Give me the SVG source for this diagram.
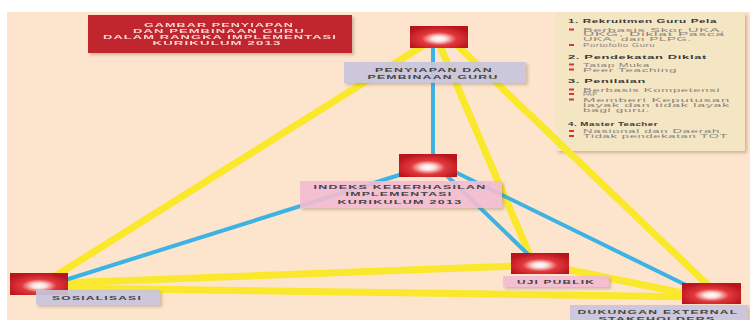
<svg xmlns="http://www.w3.org/2000/svg" width="750" height="320" viewBox="0 0 750 320">
<defs>
<radialGradient id="glow" cx="50%" cy="58%" r="60%" fx="50%" fy="58%">
<stop offset="0%" stop-color="#ffffff"/>
<stop offset="20%" stop-color="#fbe0dc"/>
<stop offset="50%" stop-color="#e2383c"/>
<stop offset="100%" stop-color="#b8141c"/>
</radialGradient>
<filter id="sh" x="-10%" y="-20%" width="130%" height="150%">
<feDropShadow dx="2" dy="2" stdDeviation="1.5" flood-color="#7a5a40" flood-opacity="0.35"/>
</filter>
<style>
.node{fill:url(#glow);}
.y{stroke:#f9e82c;stroke-width:7;fill:none;stroke-linecap:butt;}
.b{stroke:#3cb3e4;stroke-width:4;fill:none;}
.lav{fill:#c8c5dd;opacity:0.92;}
.pink{fill:#f3bcd2;opacity:0.9;}
text{font-family:"Liberation Sans",Arial,sans-serif;}
.lbl{font-weight:bold;font-size:5.8px;letter-spacing:0.6px;fill:#454545;text-anchor:middle;}
.ttl{font-weight:bold;font-size:5.8px;letter-spacing:0.5px;fill:#f6d8d6;text-anchor:middle;}
.hd{font-weight:bold;font-size:5.8px;letter-spacing:0.3px;fill:#3a3a3a;}
.it{font-size:5.6px;letter-spacing:0.3px;fill:#8a8480;}
.bul{fill:#e0303a;}
</style>
</defs>
<rect x="0" y="0" width="750" height="320" fill="#ffffff"/>
<rect x="7" y="12" width="743" height="308" fill="#fde4cc"/>

<g id="title" filter="url(#sh)">
<rect x="88" y="15" width="264" height="38" fill="#c1262d"/>
<text class="ttl" x="219" y="27" textLength="150" lengthAdjust="spacingAndGlyphs">GAMBAR PENYIAPAN</text>
<text class="ttl" x="219" y="33" textLength="172" lengthAdjust="spacingAndGlyphs">DAN PEMBINAAN GURU</text>
<text class="ttl" x="220" y="39" textLength="234" lengthAdjust="spacingAndGlyphs">DALAM RANGKA IMPLEMENTASI</text>
<text class="ttl" x="217" y="45" textLength="129" lengthAdjust="spacingAndGlyphs">KURIKULUM 2013</text>
</g>

<g id="legend">
<rect x="556" y="13" width="189" height="138" fill="#f4e5c3" filter="url(#sh)"/>
<text class="hd" x="568" y="23" textLength="149" lengthAdjust="spacingAndGlyphs">1. Rekruitmen Guru Pela</text>
<rect class="bul" x="569" y="28.5" width="5" height="2"/>
<text class="it" x="583" y="31.5" textLength="142" lengthAdjust="spacingAndGlyphs">Berbasis Skor UKA,</text>
<text class="it" x="583" y="36" textLength="142" lengthAdjust="spacingAndGlyphs">UKG, Diklat Pasca</text>
<text class="it" x="583" y="40.5" textLength="109" lengthAdjust="spacingAndGlyphs">UKA, dan PLPG.</text>
<rect class="bul" x="569" y="44" width="5" height="2"/>
<text class="it" x="583" y="47" textLength="72" lengthAdjust="spacingAndGlyphs">Portofolio Guru</text>
<text class="hd" x="568" y="59" textLength="139" lengthAdjust="spacingAndGlyphs">2. Pendekatan Diklat</text>
<rect class="bul" x="569" y="63.5" width="5" height="2"/>
<text class="it" x="583" y="66.5" textLength="67" lengthAdjust="spacingAndGlyphs">Tatap Muka</text>
<rect class="bul" x="569" y="68.5" width="5" height="2"/>
<text class="it" x="583" y="71.5" textLength="94" lengthAdjust="spacingAndGlyphs">Peer Teaching</text>
<text class="hd" x="568" y="83" textLength="78" lengthAdjust="spacingAndGlyphs">3. Penilaian</text>
<rect class="bul" x="569" y="88.5" width="5" height="2"/>
<text class="it" x="583" y="91.5" textLength="137" lengthAdjust="spacingAndGlyphs">Berbasis Kompetensi</text>
<rect class="bul" x="569" y="93" width="5" height="2"/>
<text class="it" x="583" y="96" textLength="14" lengthAdjust="spacingAndGlyphs">PAP</text>
<rect class="bul" x="569" y="98.5" width="5" height="2"/>
<text class="it" x="583" y="101.5" textLength="147" lengthAdjust="spacingAndGlyphs">Memberi Keputusan</text>
<text class="it" x="583" y="107" textLength="147" lengthAdjust="spacingAndGlyphs">layak dan tidak layak</text>
<text class="it" x="583" y="112" textLength="67" lengthAdjust="spacingAndGlyphs">bagi guru.</text>
<text class="hd" x="568" y="125.5" textLength="90" lengthAdjust="spacingAndGlyphs">4. Master Teacher</text>
<rect class="bul" x="569" y="130" width="5" height="2"/>
<text class="it" x="583" y="133" textLength="137" lengthAdjust="spacingAndGlyphs">Nasional dan Daerah</text>
<rect class="bul" x="569" y="135" width="5" height="2"/>
<text class="it" x="583" y="138" textLength="145" lengthAdjust="spacingAndGlyphs">Tidak pendekatan TOT</text>
</g>

<g id="connectors">
<line class="y" x1="424" y1="45" x2="52" y2="278"/>
<line class="y" x1="457" y1="45" x2="713" y2="290"/>
<line class="y" x1="440" y1="46" x2="531" y2="258"/>
<line class="y" x1="62" y1="283" x2="515" y2="266"/>
<line class="y" x1="62" y1="288" x2="700" y2="297"/>
<line class="y" x1="560" y1="268" x2="702" y2="297"/>
<line class="b" x1="433" y1="47" x2="433" y2="156"/>
<line class="b" x1="412" y1="171" x2="62" y2="281"/>
<line class="b" x1="442" y1="171" x2="536" y2="262"/>
<line class="b" x1="447" y1="168" x2="692" y2="288"/>
</g>

<g id="n-penyiapan">
<rect class="node" x="410" y="26" width="58" height="22"/>
<rect class="lav" x="344" y="62" width="182" height="21" filter="url(#sh)"/>
<text class="lbl" x="434" y="72" textLength="118" lengthAdjust="spacingAndGlyphs">PENYIAPAN DAN</text>
<text class="lbl" x="433" y="78.7" textLength="131" lengthAdjust="spacingAndGlyphs">PEMBINAAN GURU</text>
</g>

<g id="n-indeks">
<rect class="node" x="399" y="154" width="58" height="23"/>
<rect class="pink" x="300" y="181" width="202" height="27" filter="url(#sh)"/>
<text class="lbl" x="400" y="188.5" textLength="173" lengthAdjust="spacingAndGlyphs">INDEKS KEBERHASILAN</text>
<text class="lbl" x="399" y="196" textLength="107" lengthAdjust="spacingAndGlyphs">IMPLEMENTASI</text>
<text class="lbl" x="400" y="203.5" textLength="125" lengthAdjust="spacingAndGlyphs">KURIKULUM 2013</text>
</g>

<g id="n-sosialisasi">
<rect class="node" x="10" y="273" width="58" height="22"/>
<rect class="lav" x="36" y="290" width="124" height="15" filter="url(#sh)"/>
<text class="lbl" x="97" y="299.5" textLength="90" lengthAdjust="spacingAndGlyphs">SOSIALISASI</text>
</g>

<g id="n-uji">
<rect class="node" x="511" y="253" width="58" height="21"/>
<rect class="pink" x="503" y="276" width="106" height="11" filter="url(#sh)"/>
<text class="lbl" x="556" y="283.5" textLength="78" lengthAdjust="spacingAndGlyphs">UJI PUBLIK</text>
</g>

<g id="n-dukungan">
<rect class="node" x="682" y="283" width="59" height="21"/>
<rect class="lav" x="570" y="305" width="178" height="17" filter="url(#sh)"/>
<text class="lbl" x="658" y="313.5" textLength="161" lengthAdjust="spacingAndGlyphs">DUKUNGAN EXTERNAL</text>
<text class="lbl" x="657" y="320.5" textLength="117" lengthAdjust="spacingAndGlyphs">STAKEHOLDERS</text>
</g>
</svg>
